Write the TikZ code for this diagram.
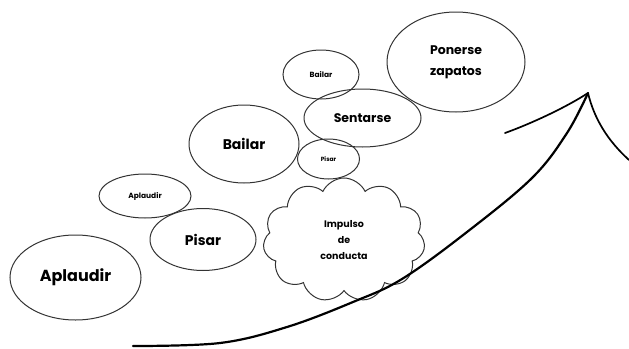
\documentclass[tikz,border=0pt]{standalone}
\usepackage{fontspec}
\setmainfont{Poppins}
\usetikzlibrary{shapes.geometric,shapes.symbols}
\begin{document}
\begin{tikzpicture}[x=1pt,y=-1pt,
  bubble/.style={ellipse,draw=black!80,line width=1pt,inner sep=0pt,font=\bfseries},
  stroke/.style={draw=black,line width=2.2pt,line cap=round}]
\useasboundingbox (0,0) rectangle (629,348);
\node[bubble,minimum width=131pt,minimum height=85pt,font=\bfseries\fontsize{16}{18}\selectfont] (a1) at (75.5,277.5) {Aplaudir};
\node[bubble,minimum width=106pt,minimum height=62pt,font=\bfseries\fontsize{14}{16}\selectfont] (p1) at (203,239.5) {Pisar};
\node[bubble,minimum width=92pt,minimum height=44pt,font=\bfseries\fontsize{7.5}{9}\selectfont] (a2) at (145,196) {Aplaudir};
\node[bubble,minimum width=110pt,minimum height=78pt,font=\bfseries\fontsize{14}{16}\selectfont] (b1) at (244,144) {Bailar};
\node[bubble,minimum width=62pt,minimum height=40pt,font=\bfseries\fontsize{6}{7}\selectfont] (p2) at (328.5,159) {Pisar};
\node[bubble,minimum width=117pt,minimum height=58pt,font=\bfseries\fontsize{12.5}{14}\selectfont] (s1) at (362.5,118) {Sentarse};
\node[bubble,minimum width=76pt,minimum height=49pt,font=\bfseries\fontsize{7.5}{9}\selectfont] (b2) at (321,74.5) {Bailar};
\node[bubble,minimum width=138pt,minimum height=100pt,align=center,font=\bfseries\fontsize{12.5}{21}\selectfont] (pz) at (456,62) {Ponerse\\zapatos};
\node[cloud,draw=black!80,line width=1pt,cloud puffs=11,cloud puff arc=130,aspect=1.3,minimum width=162pt,minimum height=124pt,inner sep=0pt,align=center,font=\bfseries\fontsize{9.5}{16}\selectfont] (c) at (344,240) {Impulso\\de\\conducta};
\draw[stroke] plot[smooth,tension=0.6] coordinates {(133,346) (220,343) (287,327) (353,302) (402,279) (467,232) (532,178) (567,133) (588,93)};
\draw[stroke,line width=1.7pt] (505,133) .. controls (530,124) and (565,108) .. (588,93);
\draw[stroke,line width=1.7pt] (588,93) .. controls (594,118) and (607,140) .. (629,160);
\end{tikzpicture}
\end{document}
